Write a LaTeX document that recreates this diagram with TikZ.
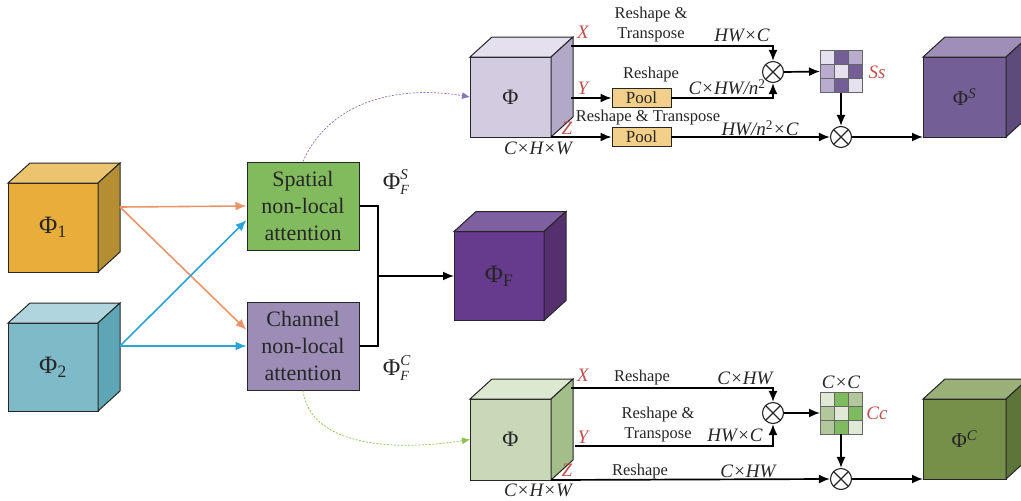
\documentclass[tikz,border=0pt]{standalone}
\usepackage{fontspec}
\setmainfont{Liberation Serif}
\usepackage{tikz}
\usetikzlibrary{arrows.meta,positioning,calc}

\definecolor{txt}{HTML}{262626}
\definecolor{redlbl}{HTML}{C0504D}
\definecolor{orfront}{HTML}{E8AD3A}
\definecolor{ortop}{HTML}{EDC46E}
\definecolor{orside}{HTML}{B58E34}
\definecolor{blfront}{HTML}{7FBAC8}
\definecolor{bltop}{HTML}{B0D5DE}
\definecolor{blside}{HTML}{5EA5B6}
\definecolor{pufront}{HTML}{663A8C}
\definecolor{putop}{HTML}{7E5FA0}
\definecolor{puside}{HTML}{55306F}
\definecolor{lpfront}{HTML}{D3CCE0}
\definecolor{lptop}{HTML}{E4E0EE}
\definecolor{lpside}{HTML}{B2A8C8}
\definecolor{spfront}{HTML}{735F96}
\definecolor{sptop}{HTML}{9F8FB8}
\definecolor{spside}{HTML}{5C4B7B}
\definecolor{lgfront}{HTML}{C9D8B8}
\definecolor{lgtop}{HTML}{DDE8D0}
\definecolor{lgside}{HTML}{A3BE88}
\definecolor{cgfront}{HTML}{76904A}
\definecolor{cgtop}{HTML}{9BB078}
\definecolor{cgside}{HTML}{5D7538}
\definecolor{sl}{HTML}{E6E1EE}
\definecolor{sd}{HTML}{735F96}
\definecolor{sm}{HTML}{B8ADCE}
\definecolor{gl}{HTML}{E0E8D6}
\definecolor{gd}{HTML}{7DBB5E}
\definecolor{gm}{HTML}{B3C79C}
\definecolor{spatialc}{HTML}{82BB5E}
\definecolor{channelc}{HTML}{9B8DB5}
\definecolor{poolc}{HTML}{F2D08A}
\definecolor{orline}{HTML}{E8956A}
\definecolor{blline}{HTML}{2AA3D6}
\definecolor{pudot}{HTML}{8B6FC0}
\definecolor{gndot}{HTML}{8BC34A}

% top and side faces of a cube, #1 = front node
\newcommand{\cubefaces}[3]{%
  \filldraw[fill=#2, cubeline] (#1.north west) -- ([shift={(22,-20)}]#1.north west)
     -- ([shift={(22,-20)}]#1.north east) -- (#1.north east) -- cycle;
  \filldraw[fill=#3, cubeline] (#1.north east) -- ([shift={(22,-20)}]#1.north east)
     -- ([shift={(22,-20)}]#1.south east) -- (#1.south east) -- cycle;
}
% Phi with stacked upper and lower index
\newcommand{\phiidx}[2]{Φ\rlap{\raisebox{10pt}{\fontsize{15}{15}\selectfont\itshape #1}}\raisebox{-5pt}{\fontsize{14}{14}\selectfont\itshape #2}}

\begin{document}
\begin{tikzpicture}[
    x=1pt, y=-1pt,
    >={Latex[length=11pt,width=9pt]},
    font=\fontsize{22}{27}\selectfont,
    cubeline/.style={draw=black!85, line width=1pt},
    cubefront/.style={
		rectangle,
		cubeline,
		inner sep=0pt,
		outer sep=0pt,
		text=txt
	},
	attn/.style={
		rectangle,
		draw=black!85,
		line width=1pt,
		align=center,
		minimum width=112,
		minimum height=88,
		text=txt
	},
	pool/.style={
		rectangle,
		draw=black!85,
		line width=0.9pt,
		fill=poolc,
		minimum width=59,
		minimum height=19,
		inner sep=0pt,
		font=\fontsize{17}{20}\selectfont,
		text=txt
	},
	prod/.style={
		circle,
		draw=black!85,
		line width=1.1pt,
		minimum size=21,
		inner sep=0pt,
		path picture={\draw[line width=1.1pt] (path picture bounding box.south west) -- (path picture bounding box.north east)
		  (path picture bounding box.north west) -- (path picture bounding box.south east);}
	},
	grid3/.style={
		rectangle,
		minimum size=42,
		inner sep=0pt,
		outer sep=0pt
	},
	cell/.style={draw=black!60, line width=0.7pt},
	line/.style={draw=black, line width=1.7pt},
	orarrow/.style={draw=orline, line width=1.6pt},
	blarrow/.style={draw=blline, line width=1.6pt},
	opname/.style={font=\fontsize{16.5}{20}\selectfont, text=txt, align=center},
	dimname/.style={font=\fontsize{19}{22}\selectfont\itshape, text=txt},
	branch/.style={font=\fontsize{19}{22}\selectfont\itshape, text=redlbl}
  ]
\useasboundingbox (0,0) rectangle (1021,501);

% // inputs
\node [cubefront, fill=orfront, minimum width=90, minimum height=89, font=\fontsize{25}{28}\selectfont] (phi1) at (53,227.5) {Φ\textsubscript{1}};
\cubefaces{phi1}{ortop}{orside}
\node [cubefront, fill=blfront, minimum width=90, minimum height=88, font=\fontsize{25}{28}\selectfont] (phi2) at (53,367) {Φ\textsubscript{2}};
\cubefaces{phi2}{bltop}{blside}

% // attention blocks
\node [attn, fill=spatialc] (sp) at (303,206) {Spatial\\non-local\\attention};
\node [attn, fill=channelc] (ch) at (303,346) {Channel\\non-local\\attention};

\coordinate (o1) at (120,207);
\coordinate (o2) at (120,346);
\draw [orarrow, ->] (o1) -- (sp.west);
\draw [orarrow, ->] (o1) -- ([yshift=16pt]ch.west);
\draw [blarrow, ->] (o2) -- ([yshift=-14pt]sp.west);
\draw [blarrow, ->] (o2) -- (ch.west);

\node [font=\fontsize{24}{26}\selectfont, text=txt] (fs) at (396,182) {\phiidx{S}{F}};
\node [font=\fontsize{24}{26}\selectfont, text=txt] (fc) at (396,368) {\phiidx{C}{F}};

% // fused output
\node [cubefront, fill=pufront, minimum width=90, minimum height=89, font=\fontsize{25}{28}\selectfont] (phif) at (499,276) {Φ\textsubscript{F}};
\cubefaces{phif}{putop}{puside}
\coordinate (join) at (378,276);
\draw [line] (sp.east) -| (join) |- (ch.east);
\draw [line, ->] (join) -- (phif.west);

% // spatial branch
\node [cubefront, fill=lpfront, minimum width=81, minimum height=80, font=\fontsize{22}{24}\selectfont] (tphi) at (510.5,97) {Φ};
\cubefaces{tphi}{lptop}{lpside}
\draw [-{Latex[length=8pt,width=7pt]}, pudot, line width=0.7pt, dash pattern=on 2pt off 1.5pt] (sp.north) .. controls (330,100) and (400,85) .. (tphi.west);

\node [pool] (pool1) at (641.5,98) {Pool};
\node [pool] (pool2) at (641.5,137) {Pool};
\node [prod] (m1) at (773,72) {};
\node [prod] (m2) at (841,137) {};
\node [grid3] (ssm) at (841,71.5) {};
\foreach \cl [count=\k from 0] in {sl,sd,sm,sm,sl,sd,sm,sd,sl}
  \filldraw [fill=\cl, cell] ([shift={({mod(\k,3)*14},{int(\k/3)*14})}]ssm.north west) rectangle ++(14,14);
\node [cubefront, fill=spfront, minimum width=83, minimum height=80, font=\fontsize{21}{24}\selectfont] (phis) at (964.5,97) {Φ\textsuperscript{\textit{S}}};
\cubefaces{phis}{sptop}{spside}

\coordinate (tx) at (571,46);
\coordinate (ty) at (571,98);
\draw [line, ->] (tx) -| (m1.north);
\draw [line, ->] (ty) -- (pool1.west);
\draw [line, ->] (pool1.east) -| (m1.south);
\draw [line, ->] (tphi.south east) -- (pool2.west);
\draw [line, ->] (pool2.east) -- (m2.west);
\draw [line, ->] (m1.east) -- (ssm.west);
\draw [line, ->] (ssm.south) -- (m2.north);
\draw [line, ->] (m2.east) -- (phis.south west);

\node [opname] (rt1) at (651,25) {Reshape \&\\Transpose};
\node [dimname] (d1) at (742,35) {HW×C};
\node [branch] (bx1) at (583,32) {X};
\node [opname] (r1) at (651,75) {Reshape};
\node [branch] (by1) at (583,88) {Y};
\node [dimname] (d2) at (727,87) {C×HW/n{\upshape\textsuperscript{2}}};
\node [opname] (rt2) at (648,118) {Reshape \& Transpose};
\node [branch] (bz1) at (567,128) {Z};
\node [dimname] (d3) at (760,128) {HW/n{\upshape\textsuperscript{2}}×C};
\node [dimname] (s1) at (538,148) {C×H×W};
\node [branch] (ss) at (877,72) {Ss};

% // channel branch
\node [cubefront, fill=lgfront, minimum width=81, minimum height=81, font=\fontsize{22}{24}\selectfont] (bphi) at (510.5,439.5) {Φ};
\cubefaces{bphi}{lgtop}{lgside}
\draw [-{Latex[length=8pt,width=7pt]}, gndot, line width=0.7pt, dash pattern=on 2pt off 1.5pt] (ch.south) .. controls (310,445) and (390,452) .. (bphi.west);

\node [prod] (m3) at (773,413) {};
\node [prod] (m4) at (841,479) {};
\node [grid3] (ccm) at (841,413) {};
\foreach \cl [count=\k from 0] in {gl,gd,gm,gm,gl,gd,gm,gd,gl}
  \filldraw [fill=\cl, cell] ([shift={({mod(\k,3)*14},{int(\k/3)*14})}]ccm.north west) rectangle ++(14,14);
\node [cubefront, fill=cgfront, minimum width=83, minimum height=80, font=\fontsize{21}{24}\selectfont] (phic) at (964.5,439) {Φ\textsuperscript{\textit{C}}};
\cubefaces{phic}{cgtop}{cgside}

\coordinate (bx) at (571,388);
\coordinate (by) at (575,446);
\draw [line, ->] (bx) -| (m3.north);
\draw [line, ->] (by) -| (m3.south);
\draw [line, ->] (bphi.south east) -- (m4.west);
\draw [line, ->] (m3.east) -- (ccm.west);
\draw [line, ->] (ccm.south) -- (m4.north);
\draw [line, ->] (m4.east) -- (phic.south west);

\node [branch] (bx2) at (583,375) {X};
\node [opname] (r2) at (642,378) {Reshape};
\node [dimname] (d4) at (745,378) {C×HW};
\node [opname] (rt3) at (658,425) {Reshape \&\\Transpose};
\node [branch] (by2) at (583,437) {Y};
\node [dimname] (d5) at (735,435) {HW×C};
\node [branch] (bz2) at (567,470) {Z};
\node [opname] (r3) at (640,472) {Reshape};
\node [dimname] (d6) at (748,471) {C×HW};
\node [dimname] (s2) at (538,490) {C×H×W};
\node [dimname] (cxc) at (841,382) {C×C};
\node [branch] (cc) at (877,413) {Cc};

\end{tikzpicture}
\end{document}
